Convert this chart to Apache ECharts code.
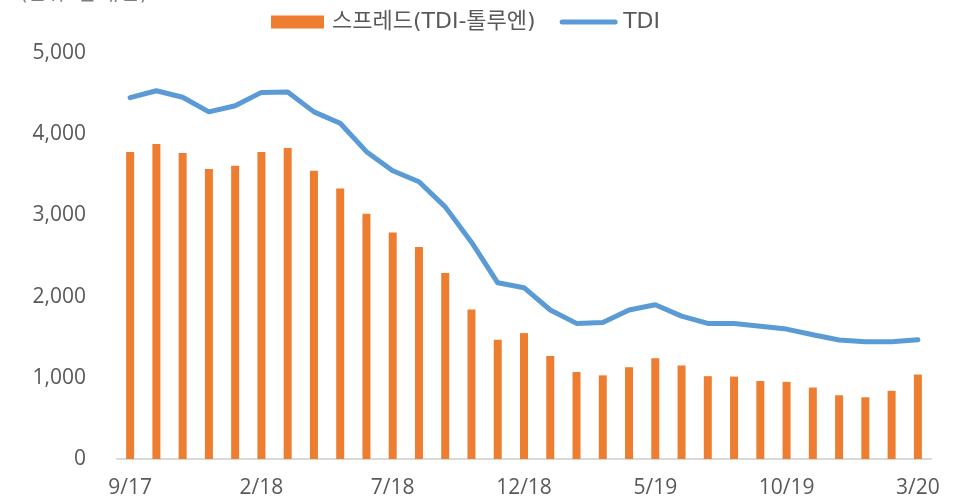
<!DOCTYPE html>
<html>
<head>
<meta charset="utf-8">
<script src="https://cdn.jsdelivr.net/npm/echarts@6/dist/echarts.min.js"></script>
<style>
    html, body { margin: 0; padding: 0; background: #fff; }
    #chart { width: 964px; height: 502px; }
</style>
</head>
<body>
<div id="chart"></div>
<script>
// 월별 (9/17 ~ 3/20)
var months = ['9/17', '10/17', '11/17', '12/17', '1/18', '2/18', '3/18', '4/18', '5/18', '6/18', '7/18', '8/18',
    '9/18', '10/18', '11/18', '12/18', '1/19', '2/19', '3/19', '4/19', '5/19', '6/19', '7/19', '8/19',
    '9/19', '10/19', '11/19', '12/19', '1/20', '2/20', '3/20'];

// 스프레드(TDI-톨루엔)
var spread = [3780, 3880, 3770, 3570, 3610, 3780, 3830, 3550, 3330, 3020, 2790, 2610,
    2290, 1840, 1470, 1550, 1270, 1070, 1030, 1130, 1240, 1150, 1020, 1015,
    960, 950, 880, 785, 760, 840, 1040];

// TDI
var tdi = [4450, 4535, 4455, 4275, 4350, 4515, 4520, 4275, 4135, 3785, 3550, 3415,
    3105, 2670, 2170, 2110, 1835, 1670, 1680, 1835, 1900, 1760, 1670, 1670,
    1635, 1600, 1530, 1465, 1445, 1445, 1470];

var yTicks = [0, 1000, 2000, 3000, 4000, 5000];

var font = "'Open Sans', 'Noto Sans CJK KR', sans-serif";
var legendFont = "'DejaVu Sans', 'Noto Sans CJK KR', sans-serif";
var gray = '#595959';

var charts = echarts.init(document.getElementById('chart'));
var option = {
    animation: false,
    textStyle: { fontFamily: font },
    graphic: [{
        type: 'text',
        left: 20,
        top: -15,
        style: { text: '(단위: 달러/톤)', font: '20px ' + legendFont, fill: '#7f7f7f' }
    }],
    legend: {
        left: 266,
        top: 6,
        itemWidth: 53,
        itemHeight: 13,
        itemGap: 24,
        textStyle: { fontSize: 22, color: gray, fontFamily: legendFont, padding: [0, 0, 0, 3] },
        data: [
            { name: '스프레드(TDI-톨루엔)', icon: 'rect' },
            { name: 'TDI', itemStyle: { opacity: 0 }, lineStyle: { width: 5, cap: 'round' } }
        ]
    },
    grid: { left: 117, right: 33, top: 53, bottom: 43 },
    xAxis: {
        type: 'category',
        data: months,
        axisLine: { lineStyle: { color: '#D9D9D9', width: 2 } },
        axisTick: { show: false },
        axisLabel: {
            interval: 4,
            margin: 19,
            fontSize: 21,
            color: gray,
            fontFamily: font
        }
    },
    yAxis: {
        type: 'value',
        min: 0,
        max: 5000,
        interval: 1000,
        axisLine: { show: false },
        axisTick: { show: false },
        splitLine: { show: false },
        axisLabel: {
            margin: 31,
            fontSize: 21,
            color: gray,
            fontFamily: font,
            formatter: function (v) {
                return yTicks.indexOf(v) >= 0 ? v.toLocaleString('en-US') : '';
            }
        }
    },
    series: [
        {
            name: '스프레드(TDI-톨루엔)',
            type: 'bar',
            data: spread,
            barWidth: 8,
            itemStyle: { color: '#ED7D31' }
        },
        {
            name: 'TDI',
            type: 'line',
            data: tdi,
            symbol: 'none',
            showSymbol: false,
            lineStyle: { color: '#5B9BD5', width: 5, cap: 'round', join: 'round' },
            itemStyle: { color: '#5B9BD5' }
        }
    ]
};
charts.setOption(option);
</script>
</body>
</html>
